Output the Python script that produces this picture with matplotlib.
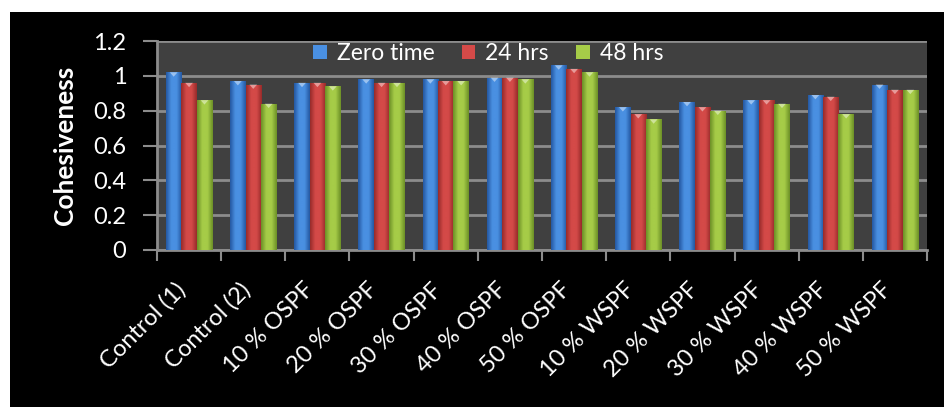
import numpy as np
import matplotlib
matplotlib.use("Agg")
import matplotlib.pyplot as plt
from matplotlib.colors import LinearSegmentedColormap
from matplotlib.patches import Rectangle, Polygon
from matplotlib.transforms import ScaledTranslation

categories = ["Control (1)", "Control (2)", "10 % OSPF", "20 % OSPF", "30 % OSPF",
              "40 % OSPF", "50 % OSPF", "10 % WSPF", "20 % WSPF", "30 % WSPF",
              "40 % WSPF", "50 % WSPF"]
zero_time = [1.02, 0.97, 0.96, 0.98, 0.98, 0.99, 1.06, 0.82, 0.85, 0.86, 0.89, 0.95]
hrs_24 = [0.96, 0.95, 0.96, 0.96, 0.97, 0.99, 1.04, 0.78, 0.82, 0.86, 0.88, 0.92]
hrs_48 = [0.86, 0.84, 0.94, 0.96, 0.97, 0.98, 1.02, 0.75, 0.80, 0.84, 0.78, 0.92]
series_names = ["Zero time", "24 hrs", "48 hrs"]
yticks = [0, 0.2, 0.4, 0.6, 0.8, 1, 1.2]

# (dark edge, light centre) for each series
shades = [("#2457a0", "#4a90e2"), ("#962a2a", "#d44a48"), ("#6b8f26", "#a6cc48")]

plt.rcParams["font.family"] = ["Lato", "DejaVu Sans"]

fig = plt.figure(figsize=(9.44, 4.07), dpi=100, facecolor="white")
fig.patches.append(Rectangle((10 / 944, 0), 1, 1 - 12 / 407, transform=fig.transFigure,
                             facecolor="black", edgecolor="none", zorder=-1))
ax = fig.add_axes([157 / 944, 1 - 250 / 407, 770 / 944, 209 / 407])
ax.set_facecolor("#404040")

x = np.arange(len(categories))
w = 0.24
handles = []
for i, (vals, (dark, light)) in enumerate(zip([zero_time, hrs_24, hrs_48], shades)):
    cmap = LinearSegmentedColormap.from_list("s%d" % i, [dark, light, light, dark])
    grad = np.linspace(0, 1, 64).reshape(1, -1)
    bars = ax.bar(x + (i - 1) * w, vals, w, color=light, edgecolor="none", zorder=3,
                  label=series_names[i])
    handles.append(bars)
    for b in bars:
        x0, bw, h = b.get_x(), b.get_width(), b.get_height()
        im = ax.imshow(grad, cmap=cmap, extent=[x0, x0 + bw, 0, h], aspect="auto",
                       zorder=3.5, interpolation="bicubic")
        im.set_clip_path(b)
        # light cap on top of each bar
        ax.add_patch(Polygon([[x0 + bw * 0.25, h], [x0 + bw * 0.75, h], [x0 + bw * 0.5, h - 0.025]],
                             closed=True, facecolor="white", alpha=0.45, edgecolor="none",
                             zorder=4))

ax.set_xlim(-0.5, len(categories) - 0.5)
ax.set_ylim(0, 1.2)
ax.set_yticks(yticks)
ax.set_yticklabels(["0", "0.2", "0.4", "0.6", "0.8", "1", "1.2"])
ax.yaxis.grid(True, color="#8c8c8c", linewidth=2, zorder=1)
ax.set_axisbelow(True)

ax.set_xticks(x)
ax.set_xticklabels(categories, rotation=45, ha="right", rotation_mode="anchor")
ax.set_xticks(np.arange(len(categories) + 1) - 0.5, minor=True)
ax.tick_params(axis="x", which="major", length=0, pad=21, labelsize=17, colors="white")
ax.tick_params(axis="x", which="minor", length=8, width=1.5, color="#8c8c8c")
ax.tick_params(axis="y", length=10, width=1.5, color="#8c8c8c", pad=12,
               labelsize=17, labelcolor="white")

# nudge the slanted category labels a little to the left
shift = ScaledTranslation(-14 / 100, 0, fig.dpi_scale_trans)
for lab in ax.get_xticklabels():
    lab.set_transform(lab.get_transform() + shift)

for s in ["top", "right"]:
    ax.spines[s].set_visible(False)
for s in ["left", "bottom"]:
    ax.spines[s].set_color("#8c8c8c")
    ax.spines[s].set_linewidth(2)

ax.set_ylabel("Cohesiveness", fontsize=19, fontweight="bold", color="white", labelpad=12)

leg = ax.legend(handles=handles, labels=series_names, loc="center", bbox_to_anchor=(0.43, 0.94),
                ncol=3, frameon=False, fontsize=16.5, handlelength=0.6, handleheight=0.6,
                handletextpad=0.44, columnspacing=1.18, labelcolor="white", borderaxespad=0)

fig.savefig("out.png", dpi=100, facecolor="white")
